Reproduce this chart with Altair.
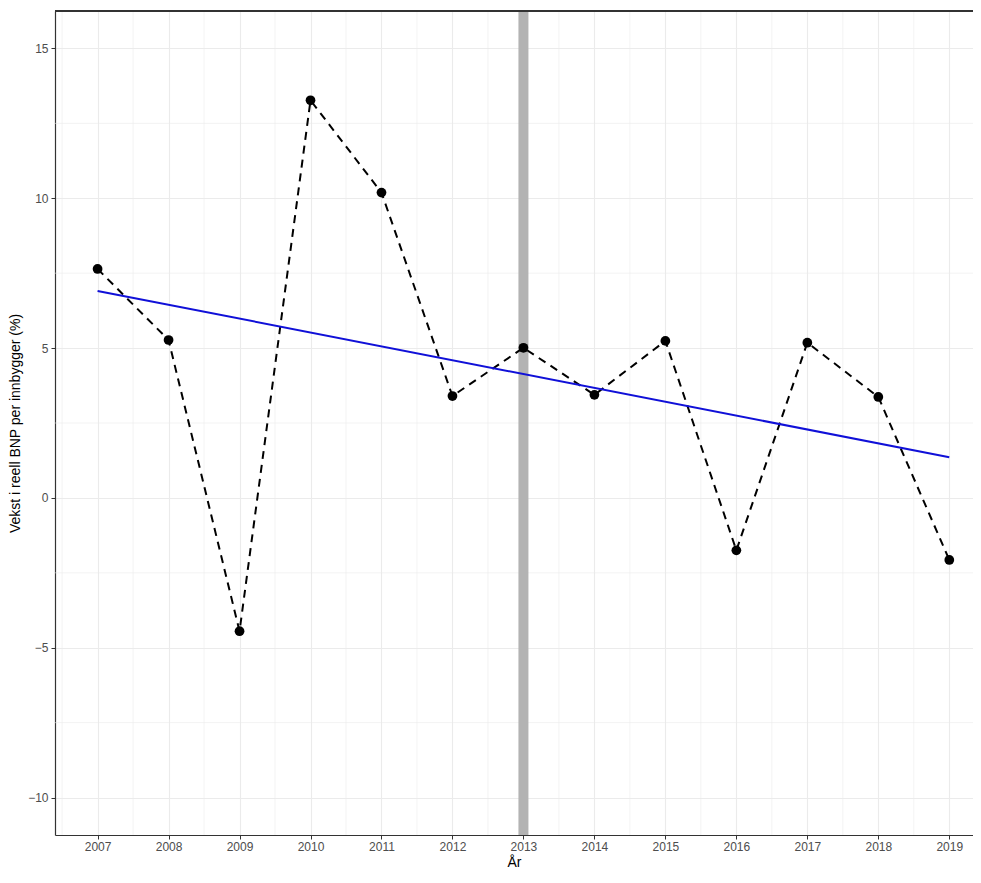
import altair as alt
import pandas as pd

years = [2007, 2008, 2009, 2010, 2011, 2012, 2013, 2014, 2015, 2016, 2017, 2018, 2019]
growth = [7.64, 5.27, -4.45, 13.27, 10.19, 3.40, 5.01, 3.44, 5.24, -1.75, 5.18, 3.37, -2.07]
vline_year = [2013]
x_minor = [2006.5, 2007.5, 2008.5, 2009.5, 2010.5, 2011.5, 2012.5, 2013.5, 2014.5,
           2015.5, 2016.5, 2017.5, 2018.5, 2019.5]
y_major = [-10, -5, 0, 5, 10, 15]
y_minor = [-7.5, -2.5, 2.5, 7.5, 12.5]

df = pd.DataFrame({"year": years, "growth": growth})
df_v = pd.DataFrame({"year": vline_year})
df_xm = pd.DataFrame({"x": x_minor})
df_ym = pd.DataFrame({"y": y_minor})

FONT = "Liberation Sans"
W, H = 918, 824

xscale = alt.Scale(domain=[2006.4, 2019.334], nice=False, zero=False)
yscale = alt.Scale(domain=[-11.25, 16.25], nice=False, zero=False)

xaxis = alt.Axis(values=years, format="d", title="År", grid=True, gridColor="#EBEBEB",
                 gridWidth=1.1, domainColor="#333333", domainWidth=1.2, tickColor="#333333",
                 tickSize=4, labelPadding=2, labelColor="#4D4D4D", labelFontSize=12,
                 labelFont=FONT, titleFont=FONT, titleFontSize=14, titleColor="#000000",
                 titleFontWeight="normal", titlePadding=3, labelFlush=False)
yaxis = alt.Axis(values=y_major, format="d", title="Vekst i reell BNP per innbygger (%)",
                 grid=True, gridColor="#EBEBEB", gridWidth=1.1, domainColor="#333333",
                 domainWidth=1.2, tickColor="#333333", tickSize=4, labelPadding=3,
                 labelColor="#4D4D4D", labelFontSize=12, labelFont=FONT, titleFont=FONT,
                 titleFontSize=14, titleColor="#000000", titleFontWeight="normal",
                 titlePadding=5, labelFlush=False)

base = alt.Chart(df)

xminor = alt.Chart(df_xm).mark_rule(color="#EBEBEB", strokeWidth=0.6).encode(
    x=alt.X("x:Q", scale=xscale, axis=xaxis))
yminor = alt.Chart(df_ym).mark_rule(color="#EBEBEB", strokeWidth=0.6).encode(
    y=alt.Y("y:Q", scale=yscale, axis=yaxis))

vline = alt.Chart(df_v).mark_rule(color="#B3B3B3", strokeWidth=10).encode(
    x=alt.X("year:Q", scale=xscale, axis=xaxis))

dashed = base.mark_line(color="black", strokeWidth=2, strokeDash=[8, 6]).encode(
    x=alt.X("year:Q", scale=xscale, axis=xaxis),
    y=alt.Y("growth:Q", scale=yscale, axis=yaxis))

reg = base.transform_regression("year", "growth", method="linear").mark_line(
    color="#1010D8", strokeWidth=2).encode(
    x=alt.X("year:Q", scale=xscale, axis=xaxis),
    y=alt.Y("growth:Q", scale=yscale, axis=yaxis))

points = base.mark_circle(color="black", size=95, opacity=1).encode(
    x=alt.X("year:Q", scale=xscale, axis=xaxis),
    y=alt.Y("growth:Q", scale=yscale, axis=yaxis))

top = base.mark_rule(color="#333333", strokeWidth=1.2).encode(
    x=alt.value(0), x2=alt.value(W), y=alt.value(0))

chart = alt.layer(xminor, yminor, vline, dashed, reg, points, top).properties(
    width=W, height=H,
    autosize=alt.AutoSizeParams(type="none"),
    padding={"left": 47, "top": 3, "right": 0, "bottom": 35},
    background="white",
).configure_view(stroke=None)

chart.save("out.html", embed_options={"renderer": "svg", "actions": False})
